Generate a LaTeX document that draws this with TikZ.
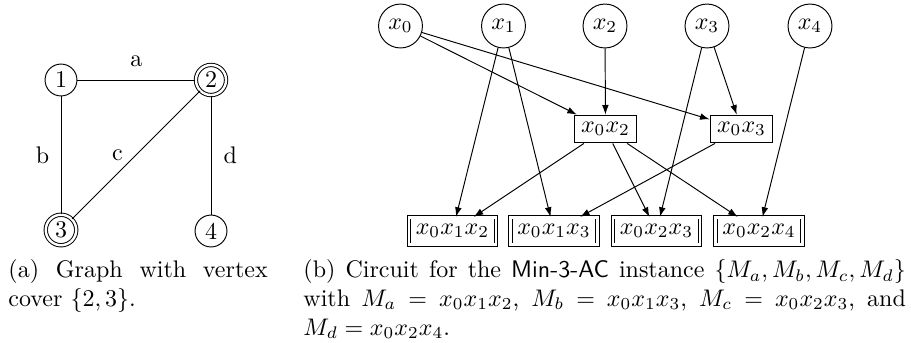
\documentclass[tikz,border=0pt]{standalone}
\usetikzlibrary{arrows.meta}
\begin{document}
\begin{tikzpicture}[x=0.41667pt,y=-0.41667pt,
  vtx/.style={circle, draw, inner sep=1.5pt, minimum size=13.3pt},
  dvtx/.style={circle, draw, double, double distance=1pt, inner sep=1.5pt, minimum size=12.3pt},
  var/.style={circle, draw, inner sep=2pt, minimum size=18.3pt},
  gate/.style={rectangle, draw, inner sep=2.9pt},
  outg/.style={rectangle, draw, double, double distance=1pt, inner sep=2.8pt},
  arr/.style={-{Latex[length=4pt,width=2.8pt]}},
  lbl/.style={inner sep=1pt},
  captxt/.style={anchor=north west, inner sep=0pt, align=justify}]
\useasboundingbox (0,0) rectangle (911,342);
% graph (a)
\node[vtx]  (n1) at (61,80)  {1};
\node[dvtx] (n2) at (211,80) {2};
\node[dvtx] (n3) at (61,230) {3};
\node[vtx]  (n4) at (211,231) {4};
\draw (n1) -- node[lbl, midway, above=4.3pt] (la) {a} (n2);
\draw (n1) -- node[lbl, midway, left=3.7pt] (lb) {b} (n3);
\draw (n2) -- node[lbl, midway, left=4.3pt] (lc) {c} (n3);
\draw (n2) -- node[lbl, midway, right=4.1pt] (ld) {d} (n4);
% circuit (b)
\node[var] (x0) at (400.5,26) {$x_0$};
\node[var] (x1) at (503.5,26) {$x_1$};
\node[var] (x2) at (605,26) {$x_2$};
\node[var] (x3) at (707,26) {$x_3$};
\node[var] (x4) at (810,26) {$x_4$};
\node[gate] (g02) at (605.5,129) {$x_0x_2$};
\node[gate] (g03) at (741.5,129) {$x_0x_3$};
\node[outg] (o012) at (452.5,231) {$x_0x_1x_2$};
\node[outg] (o013) at (554,231) {$x_0x_1x_3$};
\node[outg] (o023) at (656.5,231) {$x_0x_2x_3$};
\node[outg] (o024) at (759,231) {$x_0x_2x_4$};
\draw[arr] (x0) -- (g02);
\draw[arr] (x0) -- (g03);
\draw[arr] (x2) -- (g02);
\draw[arr] (x3) -- (g03);
\draw[arr] (x1) -- (o012);
\draw[arr] (x1) -- (o013);
\draw[arr] (x3) -- (o023);
\draw[arr] (x4) -- (o024);
\draw[arr] (g02) -- (o012);
\draw[arr] (g02) -- (o023);
\draw[arr] (g02) -- (o024);
\draw[arr] (g03) -- (o013);
% captions
\node[captxt, text width=108pt] (capa) at (8,259) {\noindent(a) Graph with vertex\linebreak cover $\{2,3\}$.};
\node[captxt, text width=251pt] (capb) at (303,259) {\noindent(b) Circuit for the \textsf{Min-3-AC} instance $\{M_a,M_b,M_c,M_d\}$\linebreak with $M_a=x_0x_1x_2$, $M_b=x_0x_1x_3$, $M_c=x_0x_2x_3$, and\linebreak $M_d=x_0x_2x_4$.};
\end{tikzpicture}
\end{document}
